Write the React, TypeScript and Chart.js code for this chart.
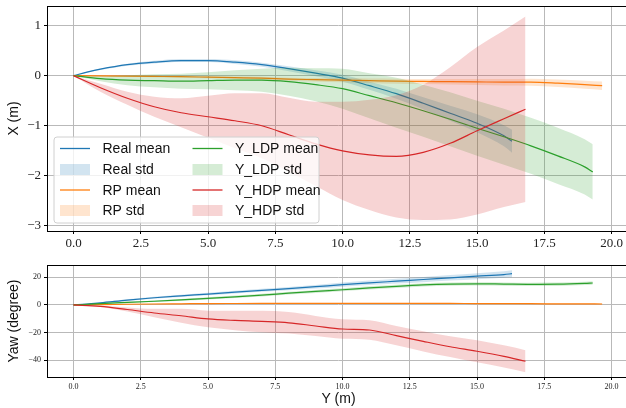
import React, { useEffect, useRef } from "react";
import { Chart, registerables } from "chart.js";
Chart.register(...registerables);

// ---------- data ----------
const realPos = [0, 0.5, 1, 2, 3, 4, 5, 6, 7, 8, 9, 10, 11, 12, 13, 14, 15, 16, 16.3];
const realX = [0, 0.07, 0.13, 0.22, 0.27, 0.3, 0.3, 0.27, 0.22, 0.14, 0.05, -0.05, -0.2, -0.36, -0.55, -0.75, -0.95, -1.2, -1.31];
const realXStd = [0, 0.01, 0.015, 0.02, 0.025, 0.03, 0.03, 0.035, 0.04, 0.05, 0.06, 0.07, 0.08, 0.1, 0.12, 0.15, 0.18, 0.21, 0.23];
const realYaw = [0, 0.7, 1.5, 3.5, 5.2, 6.6, 7.9, 9.3, 10.6, 11.8, 13.2, 14.7, 16, 17.2, 18.4, 19.6, 20.8, 22, 22.6];
const realYawStd = [0, 0.2, 0.4, 0.6, 0.7, 0.8, 0.9, 1.0, 1.1, 1.2, 1.3, 1.5, 1.6, 1.7, 1.9, 2.0, 2.2, 2.4, 2.5];

const rpPos = [0, 1, 2, 3, 4, 5, 6, 7, 8, 9, 10, 11, 12, 13, 14, 15, 16, 17, 18, 19, 19.65];
const rpX = [0, -0.005, -0.01, -0.015, -0.02, -0.03, -0.04, -0.05, -0.07, -0.08, -0.09, -0.1, -0.11, -0.115, -0.12, -0.125, -0.13, -0.13, -0.15, -0.18, -0.2];
const rpXStd = [0, 0.005, 0.01, 0.015, 0.02, 0.02, 0.025, 0.03, 0.03, 0.035, 0.04, 0.045, 0.05, 0.05, 0.055, 0.06, 0.065, 0.07, 0.075, 0.08, 0.085];
const rpYaw = [0, 0.2, 0.5, 0.7, 0.85, 1.0, 1.05, 1.1, 1.15, 1.2, 1.2, 1.2, 1.2, 1.15, 1.1, 1.0, 0.95, 0.9, 0.8, 0.75, 0.7];
const rpYawStd = [0, 0.1, 0.15, 0.2, 0.2, 0.2, 0.2, 0.25, 0.25, 0.25, 0.25, 0.25, 0.25, 0.3, 0.3, 0.3, 0.3, 0.3, 0.3, 0.3, 0.3];

const ldpPos = [0, 1, 2, 3, 4, 5, 6, 7, 8, 9, 10, 11, 12, 13, 14, 15, 16, 17, 18, 19, 19.3];
const ldpX = [0, -0.06, -0.09, -0.1, -0.11, -0.1, -0.09, -0.09, -0.12, -0.18, -0.26, -0.4, -0.54, -0.7, -0.87, -1.05, -1.22, -1.4, -1.6, -1.82, -1.92];
const ldpXStd = [0, 0.05, 0.1, 0.13, 0.15, 0.17, 0.2, 0.23, 0.28, 0.33, 0.4, 0.45, 0.5, 0.52, 0.54, 0.55, 0.56, 0.56, 0.56, 0.55, 0.55];
const ldpYaw = [0, 1, 1.8, 2.7, 3.7, 4.8, 5.9, 7.1, 8.5, 9.8, 11, 12.3, 13.5, 14.5, 15.1, 15.3, 15.1, 14.9, 15, 15.6, 15.9];
const ldpYawStd = [0, 0.3, 0.5, 0.6, 0.7, 0.8, 0.9, 1, 1, 1.1, 1.1, 1.2, 1.2, 1.2, 1.2, 1.2, 1.2, 1.2, 1.2, 1.2, 1.2];

const hdpPos = [0, 1, 2, 3, 4, 5, 6, 7, 8, 9, 10, 11, 12, 13, 14, 15, 16, 16.8];
const hdpX = [0, -0.24, -0.45, -0.62, -0.74, -0.82, -0.9, -1.0, -1.18, -1.36, -1.5, -1.58, -1.61, -1.53, -1.35, -1.1, -0.86, -0.67];
const hdpXStd = [0, 0.08, 0.13, 0.2, 0.29, 0.42, 0.55, 0.65, 0.74, 0.84, 0.98, 1.1, 1.22, 1.35, 1.52, 1.67, 1.76, 1.85];
const hdpYaw = [0, -1, -3.3, -5.8, -7.8, -10.1, -11.2, -11.9, -12.9, -15.2, -17.4, -18.1, -22.2, -26.3, -30.2, -33.5, -37.2, -40.7];
const hdpYawStd = [0, 0.5, 1.5, 3, 5, 6, 7, 7.8, 7.8, 7.3, 7, 7, 7, 7.3, 7.5, 8, 8, 8];

const seriesNames = ["Real", "RP", "Y_LDP", "Y_HDP"];
const xTicks = [0, 2.5, 5, 7.5, 10, 12.5, 15, 17.5, 20];
const topYTicks = [-3, -2, -1, 0, 1];
const bottomYTicks = [-40, -20, 0, 20];

// ---------- styling ----------
const COLORS = ["#1f77b4", "#ff7f0e", "#2ca02c", "#d62728"];
const FILLS = ["rgba(31,119,180,0.2)", "rgba(255,127,14,0.2)", "rgba(44,160,44,0.2)", "rgba(214,39,40,0.2)"];
const SERIF = "'Liberation Serif', 'DejaVu Serif', serif";
const SANS = "'Liberation Sans', Arial, sans-serif";
const GRID = "#b9b9b9";

const fmtMinus = (v: number) => (v < 0 ? "\u2212" + String(Math.abs(v)) : String(v));

function pts(xs: number[], ys: number[], sd: number[] | null, sign: number) {
  return xs.map((x, i) => ({ x, y: ys[i] + (sd ? sign * sd[i] : 0) }));
}

function buildDatasets(groups: { pos: number[]; mean: number[]; std: number[] }[]) {
  const ds: any[] = [];
  groups.forEach((g, k) => {
    const base = 2 * k;
    ds.push({
      label: seriesNames[k] + " mean",
      data: pts(g.pos, g.mean, null, 0),
      borderColor: COLORS[k],
      borderWidth: 1.2,
      pointRadius: 0,
      fill: false,
      order: 20 - base,
      cubicInterpolationMode: "monotone",
    });
    ds.push({
      label: seriesNames[k] + " std",
      data: pts(g.pos, g.mean, g.std, 1),
      borderWidth: 0,
      borderColor: "rgba(0,0,0,0)",
      backgroundColor: FILLS[k],
      pointRadius: 0,
      fill: "+1",
      order: 19 - base,
      cubicInterpolationMode: "monotone",
    });
    ds.push({
      label: seriesNames[k] + " std low",
      data: pts(g.pos, g.mean, g.std, -1),
      borderWidth: 0,
      borderColor: "rgba(0,0,0,0)",
      pointRadius: 0,
      fill: false,
      order: 19 - base,
      cubicInterpolationMode: "monotone",
    });
  });
  return ds;
}

const boxPlugin = {
  id: "boxPlugin",
  afterDraw(chart: any) {
    const { ctx, chartArea: a } = chart;
    ctx.save();
    ctx.strokeStyle = "#000";
    ctx.lineWidth = 1;
    ctx.strokeRect(Math.round(a.left) + 0.5, Math.round(a.top) + 0.5, Math.round(a.right - a.left), Math.round(a.bottom - a.top));
    ctx.restore();
  },
};

const legendPlugin = {
  id: "customLegend",
  afterDraw(chart: any) {
    const ctx = chart.ctx;
    ctx.save();
    const x0 = 54, y0 = 137, w = 265, h = 86, r = 3;
    ctx.beginPath();
    ctx.moveTo(x0 + r, y0);
    ctx.arcTo(x0 + w, y0, x0 + w, y0 + h, r);
    ctx.arcTo(x0 + w, y0 + h, x0, y0 + h, r);
    ctx.arcTo(x0, y0 + h, x0, y0, r);
    ctx.arcTo(x0, y0, x0 + w, y0, r);
    ctx.closePath();
    ctx.fillStyle = "rgba(255,255,255,0.8)";
    ctx.fill();
    ctx.strokeStyle = "#d0d0d0";
    ctx.lineWidth = 1;
    ctx.stroke();
    const rows = [148.5, 169.5, 190, 210.5];
    const cols = [{ hx: 60, tx: 102.5 }, { hx: 192.5, tx: 235 }];
    ctx.font = "14px " + SANS;
    ctx.textBaseline = "middle";
    seriesNames.forEach((name, k) => {
      const col = cols[Math.floor(k / 2)];
      const r1 = rows[(k % 2) * 2];
      const r2 = rows[(k % 2) * 2 + 1];
      ctx.strokeStyle = COLORS[k];
      ctx.lineWidth = 1.3;
      ctx.beginPath();
      ctx.moveTo(col.hx, r1);
      ctx.lineTo(col.hx + 30, r1);
      ctx.stroke();
      ctx.fillStyle = FILLS[k];
      ctx.fillRect(col.hx, r2 - 5.5, 30, 11);
      ctx.fillStyle = "#111";
      ctx.fillText(name + " mean", col.tx, r1 + 1);
      ctx.fillText(name + " std", col.tx, r2 + 1);
    });
    ctx.restore();
  },
};

function noPad(s: any) {
  s.paddingTop = 0;
  s.paddingBottom = 0;
  s.paddingLeft = 0;
  s.paddingRight = 0;
}

function makeOptions(cfg: {
  yMin: number; yMax: number; yTicks: number[]; yTitle: string;
  xTitle: string | null; tickFont: number; yWidth: number; xHeight: number; padTop: number; padRight: number;
}) {
  return {
    responsive: false,
    animation: false as const,
    events: [],
    layout: { padding: { top: cfg.padTop, left: 0, right: cfg.padRight, bottom: 0 } },
    plugins: { legend: { display: false }, tooltip: { enabled: false } },
    scales: {
      x: {
        type: "linear" as const,
        min: -0.985,
        max: 20.685,
        afterBuildTicks: (s: any) => { s.ticks = xTicks.map((v) => ({ value: v })); },
        afterFit: (s: any) => { s.height = cfg.xHeight; noPad(s); },
        grid: { color: GRID, lineWidth: 1, tickColor: "#000", tickLength: 3, drawTicks: true },
        border: { display: false },
        ticks: {
          autoSkip: false, maxRotation: 0, padding: 2, color: "#222",
          font: { family: SERIF, size: cfg.tickFont },
          callback: (v: any) => (Number(v) < 0 ? "\u2212" : "") + Math.abs(Number(v)).toFixed(1),
        },
        title: cfg.xTitle
          ? { display: true, text: cfg.xTitle, color: "#111", font: { family: SANS, size: 14 }, padding: { top: 0, bottom: 0 } }
          : { display: false },
      },
      y: {
        type: "linear" as const,
        min: cfg.yMin,
        max: cfg.yMax,
        afterBuildTicks: (s: any) => { s.ticks = cfg.yTicks.map((v) => ({ value: v })); },
        afterFit: (s: any) => { s.width = cfg.yWidth; noPad(s); },
        grid: { color: GRID, lineWidth: 1, tickColor: "#000", tickLength: 3, drawTicks: true },
        border: { display: false },
        ticks: {
          autoSkip: false, padding: 3, color: "#222",
          font: { family: SERIF, size: cfg.tickFont },
          callback: (v: any) => fmtMinus(Number(v)),
        },
        title: { display: true, text: cfg.yTitle, color: "#111", font: { family: SANS, size: 14 }, padding: { top: 6, bottom: 0 } },
      },
    },
  };
}

export default function App() {
  const topRef = useRef<HTMLCanvasElement | null>(null);
  const botRef = useRef<HTMLCanvasElement | null>(null);

  useEffect(() => {
    const topDs = buildDatasets([
      { pos: realPos, mean: realX, std: realXStd },
      { pos: rpPos, mean: rpX, std: rpXStd },
      { pos: ldpPos, mean: ldpX, std: ldpXStd },
      { pos: hdpPos, mean: hdpX, std: hdpXStd },
    ]);
    const botDs = buildDatasets([
      { pos: realPos, mean: realYaw, std: realYawStd },
      { pos: rpPos, mean: rpYaw, std: rpYawStd },
      { pos: ldpPos, mean: ldpYaw, std: ldpYawStd },
      { pos: hdpPos, mean: hdpYaw, std: hdpYawStd },
    ]);
    const top = new Chart(topRef.current as HTMLCanvasElement, {
      type: "line",
      data: { datasets: topDs },
      options: makeOptions({ yMin: -3.1, yMax: 1.39, yTicks: topYTicks, yTitle: "X (m)", xTitle: null, tickFont: 13, yWidth: 47, xHeight: 24, padTop: 6, padRight: 10 }) as any,
      plugins: [boxPlugin, legendPlugin],
    });
    const bot = new Chart(botRef.current as HTMLCanvasElement, {
      type: "line",
      data: { datasets: botDs },
      options: makeOptions({ yMin: -52.1, yMax: 28.9, yTicks: bottomYTicks, yTitle: "Yaw (degree)", xTitle: "Y (m)", tickFont: 8, yWidth: 47, xHeight: 31, padTop: 7, padRight: 10 }) as any,
      plugins: [boxPlugin],
    });
    return () => {
      top.destroy();
      bot.destroy();
    };
  }, []);

  return (
    <div style={{ position: "fixed", left: 0, top: 0, width: 626, height: 408, overflow: "hidden", background: "#fff" }}>
      <canvas ref={topRef} width={640} height={255} style={{ position: "absolute", left: 0, top: 0, width: 640, height: 255 }} />
      <canvas ref={botRef} width={640} height={150} style={{ position: "absolute", left: 0, top: 258, width: 640, height: 150 }} />
    </div>
  );
}
